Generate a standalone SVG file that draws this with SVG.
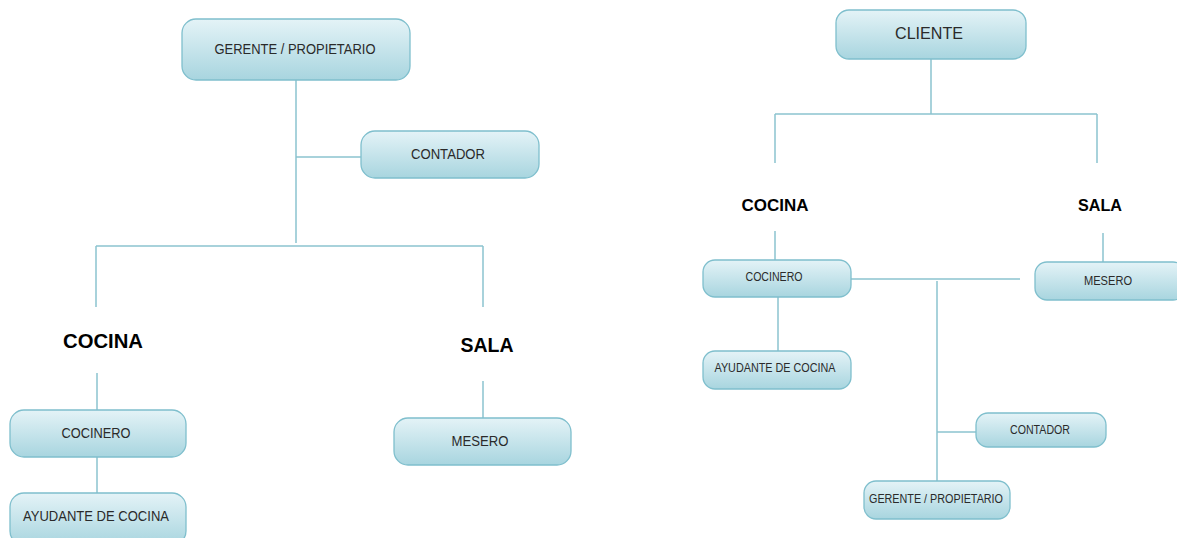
<svg xmlns="http://www.w3.org/2000/svg" width="1177" height="538" viewBox="0 0 1177 538">
<defs>
<linearGradient id="g" x1="0" y1="0" x2="0" y2="1">
<stop offset="0" stop-color="#e4f3f7"/>
<stop offset="1" stop-color="#a8d5df"/>
</linearGradient>
<style>
.box{fill:url(#g);stroke:#7fbfcd;stroke-width:1.3}
.t{font-family:"Liberation Sans",Arial,sans-serif;fill:#2a2a2a;text-anchor:middle}
.h{font-family:"Liberation Sans",Arial,sans-serif;font-weight:bold;fill:#000;text-anchor:middle}
.c{stroke:#8cc4d0;stroke-width:1.5;fill:none}
</style>
</defs>
<rect width="1177" height="538" fill="#fff"/>
<g id="connectors">
<path class="c" d="M296 80V243M296 157H361M96 246H483M96 246V307M483 246V307M97 373V410M97 457V493M483 381V418"/>
<path class="c" d="M931 59V114M775 114H1097M775 114V163M1097 114V163M775 231V260M1103 233V262M851 279H1020M778 297V351M937 281V482M937 432H976"/>
</g>
<g id="n-gerente-l"><rect class="box" x="182" y="19" width="228" height="61" rx="14"/><text class="t" x="295" y="54" font-size="15" textLength="161" lengthAdjust="spacingAndGlyphs">GERENTE / PROPIETARIO</text></g>
<g id="n-contador-l"><rect class="box" x="361" y="131" width="178" height="47" rx="14"/><text class="t" x="448" y="159" font-size="15" textLength="74" lengthAdjust="spacingAndGlyphs">CONTADOR</text></g>
<g id="n-cocina-l"><text class="h" x="103" y="348" font-size="20" textLength="80" lengthAdjust="spacingAndGlyphs">COCINA</text></g>
<g id="n-sala-l"><text class="h" x="487" y="352" font-size="20" textLength="53" lengthAdjust="spacingAndGlyphs">SALA</text></g>
<g id="n-cocinero-l"><rect class="box" x="10" y="410" width="176" height="47" rx="14"/><text class="t" x="96" y="438" font-size="15" textLength="69" lengthAdjust="spacingAndGlyphs">COCINERO</text></g>
<g id="n-ayudante-l"><rect class="box" x="10" y="493" width="176" height="52" rx="14"/><text class="t" x="96" y="521" font-size="15" textLength="146" lengthAdjust="spacingAndGlyphs">AYUDANTE DE COCINA</text></g>
<g id="n-mesero-l"><rect class="box" x="394" y="418" width="177" height="47" rx="14"/><text class="t" x="480" y="446" font-size="15" textLength="57" lengthAdjust="spacingAndGlyphs">MESERO</text></g>
<g id="n-cliente"><rect class="box" x="836" y="10" width="190" height="49" rx="13"/><text class="t" x="929" y="39" font-size="16" textLength="68" lengthAdjust="spacingAndGlyphs">CLIENTE</text></g>
<g id="n-cocina-r"><text class="h" x="775" y="211" font-size="17" textLength="67" lengthAdjust="spacingAndGlyphs">COCINA</text></g>
<g id="n-sala-r"><text class="h" x="1100" y="211" font-size="17" textLength="44" lengthAdjust="spacingAndGlyphs">SALA</text></g>
<g id="n-cocinero-r"><rect class="box" x="703" y="260" width="148" height="37" rx="12"/><text class="t" x="774" y="281" font-size="12" textLength="57" lengthAdjust="spacingAndGlyphs">COCINERO</text></g>
<g id="n-mesero-r"><rect class="box" x="1035" y="262" width="150" height="38" rx="12"/><text class="t" x="1108" y="285" font-size="12" textLength="48" lengthAdjust="spacingAndGlyphs">MESERO</text></g>
<g id="n-ayudante-r"><rect class="box" x="703" y="351" width="148" height="38" rx="12"/><text class="t" x="775" y="372" font-size="12" textLength="121" lengthAdjust="spacingAndGlyphs">AYUDANTE DE COCINA</text></g>
<g id="n-contador-r"><rect class="box" x="976" y="413" width="130" height="34" rx="12"/><text class="t" x="1040" y="434" font-size="12" textLength="60" lengthAdjust="spacingAndGlyphs">CONTADOR</text></g>
<g id="n-gerente-r"><rect class="box" x="864" y="481" width="146" height="38" rx="12"/><text class="t" x="936" y="503" font-size="12" textLength="134" lengthAdjust="spacingAndGlyphs">GERENTE / PROPIETARIO</text></g>
</svg>
